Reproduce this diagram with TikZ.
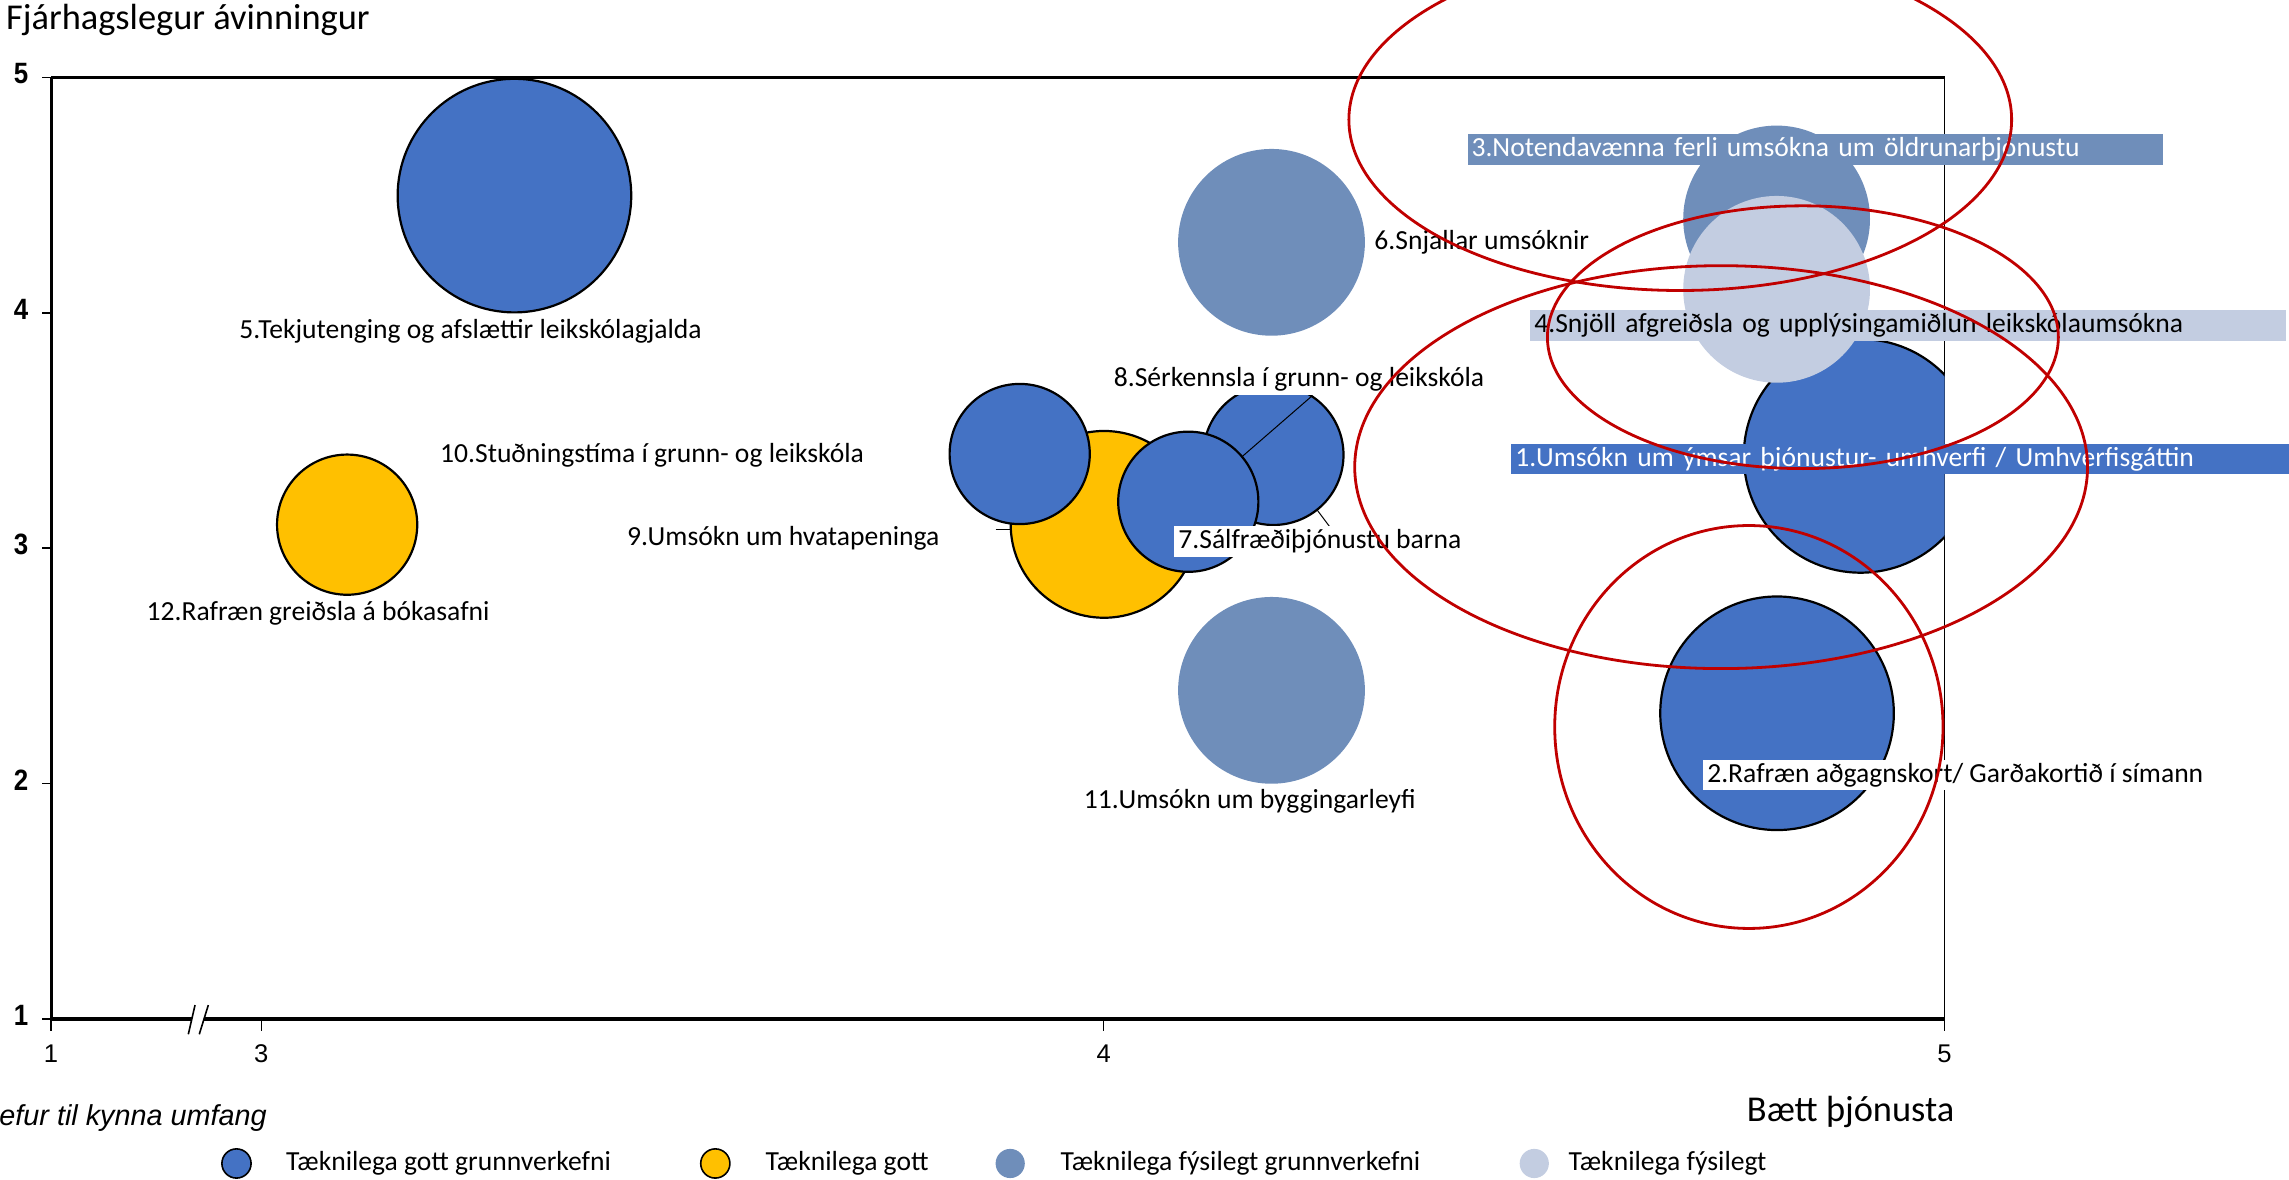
\documentclass[tikz,border=0pt]{standalone}
\usepackage{fontspec}
\setmainfont{Carlito}
\newfontfamily\arialf{Liberation Sans}
\definecolor{cblue}{HTML}{4472C4}
\definecolor{csteel}{HTML}{6F8EBA}
\definecolor{clight}{HTML}{C3CDE1}
\definecolor{cyel}{HTML}{FFC000}
\definecolor{cred}{HTML}{C00000}
\tikzset{
 bub/.style={circle, inner sep=0pt, outer sep=0pt},
 bigb/.style={bub, minimum size=116.8pt},
 medb/.style={bub, minimum size=93.4pt},
 smlb/.style={bub, minimum size=70.1pt},
 dblue/.style={fill=cblue, draw=black, line width=1.1pt},
 dyel/.style={fill=cyel, draw=black, line width=1.1pt},
 dsteel/.style={fill=csteel},
 dlight/.style={fill=clight},
 lbl/.style={font=\fontsize{13.8}{16}\selectfont, anchor=west, inner xsep=2pt, inner ysep=1.2pt, text height=9.9pt, text depth=3pt},
 ring/.style={draw=cred, line width=1.4pt},
 lead/.style={draw=black, line width=0.5pt},
 axisline/.style={draw=black, line width=1.5pt},
 ytick/.style={font=\arialf\bfseries\fontsize{14.7}{16}\selectfont, inner sep=0pt},
 xtick/.style={font=\arialf\fontsize{12.8}{15}\selectfont, inner sep=0pt},
 bigtext/.style={font=\fontsize{18.2}{21}\selectfont, inner sep=0pt},
}
\begin{document}
\begin{tikzpicture}[x=0.73pt,y=-0.73pt]
\useasboundingbox (0,0) rectangle (1568,808);

% axes frame
\coordinate (tl) at (35,53);
\coordinate (tr) at (1332,53);
\coordinate (bl) at (35,698);
\coordinate (br) at (1332,698);
\draw[axisline] (tl) -- (tr);
\draw[axisline] (tl) -- (bl);
\draw[axisline, line width=1.6pt] (bl) -- (br);
\draw[line width=0.6pt] (tr) -- (br);

% y ticks
\foreach \yy/\lab in {53/5,214.3/4,375.5/3,536.8/2,698/1}{
  \draw[line width=0.8pt] (29,\yy) -- (35,\yy);
  \node[ytick] at (14.5,\yy-2.5) {\scalebox{0.88}[1]{\lab}};
}
% x ticks
\foreach \xx/\lab in {35/1,179/3,756/4,1332/5}{
  \draw[line width=0.8pt] (\xx,698) -- (\xx,706);
  \node[xtick] at (\xx,722) {\lab};
}
% axis break
\fill[white] (129,708.5) -- (133.6,688.5) -- (142.7,688.5) -- (136.5,708.5) -- cycle;
\draw[line width=0.8pt] (129,708.5) -- (133.6,688.5);
\draw[line width=0.8pt] (136.5,708.5) -- (142.7,688.5);

% bubbles
\begin{scope}
\clip (35,53) rectangle (1332,698);
\node[bigb, dblue] (b5) at (352.4,134) {};
\node[smlb, dyel] (b12) at (237.8,359.4) {};
\node[medb, dsteel] (b6) at (871,166) {};
\node[medb, dsteel] (b11) at (871,472.9) {};
\node[medb, dsteel] (b3) at (1217,150) {};
\node[bigb, dblue] (b1) at (1274.5,312.3) {};
\node[medb, dlight] (b4) at (1217,198.2) {};
\node[bigb, dblue] (b2) at (1217.3,488.6) {};
\node[medb, dyel] (b9) at (756.3,359.2) {};
\node[smlb, dblue] (b10) at (698.5,311) {};
\node[smlb, dblue] (b8) at (872.3,311.6) {};
\coordinate (l8a) at (899,271);
\coordinate (l8b) at (846,317);
\draw[lead] (l8a) -- (l8b);
\node[smlb, dblue] (b7) at (814,343.7) {};
\end{scope}

% leader lines
\coordinate (l7a) at (902,349);
\coordinate (l7b) at (911,361);
\draw[lead] (l7a) -- (l7b);
\coordinate (l9a) at (682,363);
\coordinate (l9b) at (692,363);
\draw[lead] (l9a) -- (l9b);

% labels
\node[lbl] (t5) at (161,227) {5.Tekjutenging og afslættir leikskólagjalda};
\node[lbl] (t6) at (938.5,166) {6.Snjallar umsóknir};
\node[lbl] (t10) at (298.5,312) {10.Stuðningstíma í grunn- og leikskóla};
\node[lbl] (t9) at (426.5,369) {9.Umsókn um hvatapeninga};
\node[lbl] (t12) at (97.5,420.5) {12.Rafræn greiðsla á bókasafni};
\node[lbl] (t11) at (739.5,549) {11.Umsókn um byggingarleyfi};
\node[lbl, fill=white] (t8) at (760,260) {8.Sérkennsla í grunn- og leikskóla};
\node[lbl, fill=white] (t7) at (804.2,371) {7.Sálfræðiþjónustu barna};
\node[lbl, fill=white] (t2) at (1166.5,531) {2.Rafræn aðgagnskort/ Garðakortið í símann};
\node[lbl, fill=csteel, text=white, text width=343.8pt, align=left] (t3) at (1005,102.5) {3.Notendavænna ferli umsókna um öldrunarþjónustu};
\node[lbl, fill=clight, text width=373.8pt, align=left] (t4) at (1048,223) {4.Snjöll afgreiðsla og upplýsingamiðlun leikskólaumsókna};
\node[lbl, fill=cblue, text=white, text width=385.1pt, align=left] (t1) at (1035,314.5) {1.Umsókn um ýmsar þjónustur- umhverfi / Umhverfisgáttin};

% red rings
\coordinate (rA) at (1151,82);
\coordinate (rB) at (1235,231);
\coordinate (rC) at (1179,320);
\coordinate (rD) at (1198,498);
\draw[ring] (rA) ellipse [x radius=227, y radius=117];
\draw[ring] (rB) ellipse [x radius=175, y radius=90];
\draw[ring] (rC) ellipse [x radius=251, y radius=138];
\draw[ring] (rD) ellipse [x radius=133, y radius=138];

% axis titles
\node[bigtext, anchor=west] (ytitle) at (4,14) {Fjárhagslegur ávinningur};
\node[bigtext, anchor=east] (xtitle) at (1339,762) {Bætt þjónusta};
\node[font=\arialf\itshape\fontsize{14.4}{17}\selectfont, inner sep=0pt, anchor=east] (sizenote) at (183,766) {efur til kynna umfang};

% legend
\node[bub, minimum size=14.6pt, fill=cblue, draw=black, line width=0.8pt] (lg1) at (162,797) {};
\node[lbl] (lt1) at (193,797) {Tæknilega gott grunnverkefni};
\node[bub, minimum size=14.6pt, fill=cyel, draw=black, line width=0.8pt] (lg2) at (490,797) {};
\node[lbl] (lt2) at (521.5,797) {Tæknilega gott};
\node[bub, minimum size=14.6pt, fill=csteel] (lg3) at (692,797) {};
\node[lbl] (lt3) at (723.5,797) {Tæknilega fýsilegt grunnverkefni};
\node[bub, minimum size=14.6pt, fill=clight] (lg4) at (1051,797) {};
\node[lbl] (lt4) at (1071.5,797) {Tæknilega fýsilegt};
\end{tikzpicture}
\end{document}
